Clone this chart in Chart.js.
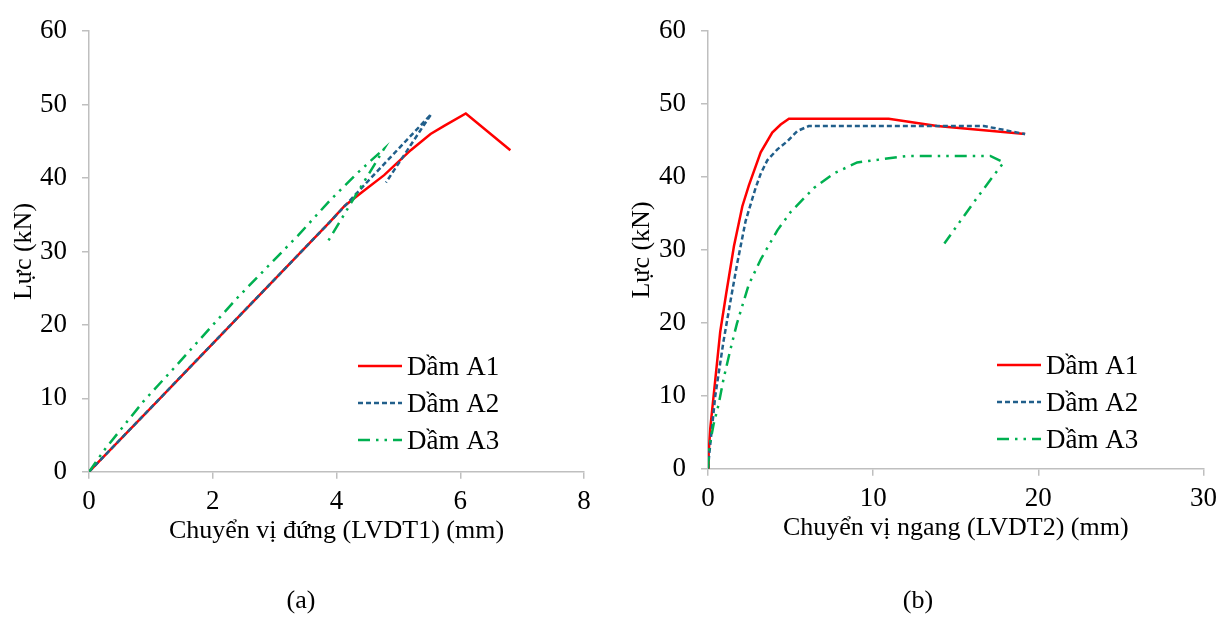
<!DOCTYPE html>
<html>
<head>
<meta charset="utf-8">
<script src="https://cdn.jsdelivr.net/npm/chart.js@4.4.1/dist/chart.umd.min.js"></script>
<style>
    html, body { margin: 0; padding: 0; background: #fff; }
    .panel { position: absolute; top: 0; width: 612px; height: 617px; }
    #panelA { left: 0; }
    #panelB { left: 612px; }
</style>
</head>
<body>
<div class="panel" id="panelA"><canvas id="chartA" width="612" height="617"></canvas></div>
<div class="panel" id="panelB"><canvas id="chartB" width="612" height="617"></canvas></div>
<script>
const seriesNames = ['Dầm A1', 'Dầm A2', 'Dầm A3'];
const yTitle = 'Lực (kN)';

// (a) vertical displacement LVDT1
const a1X = [0, 1.09, 1.98, 3.16, 3.89, 4.13, 4.40, 4.77, 5.20, 5.52, 5.74, 6.09, 6.81];
const a1Y = [0, 9.5, 17.3, 27.6, 34, 36.2, 38, 40.4, 43.8, 46, 47.1, 48.8, 43.8];
const a2X = [0, 1.09, 1.98, 3.16, 3.89, 4.6, 5.53, 5.2, 4.80];
const a2Y = [0, 9.5, 17.3, 27.6, 34, 40.4, 48.7, 44.5, 39.4];
const a3X = [0, 0.26, 0.88, 1.36, 2.41, 3.38, 3.91, 4.34, 4.56, 4.77, 4.3, 3.82];
const a3Y = [0, 3.1, 9.6, 14, 23.8, 32.2, 37.1, 40.7, 42.4, 44.0, 37.5, 30.8];

// (b) horizontal displacement LVDT2
const b1X = [0, 0.04, 0.14, 0.34, 0.74, 1.1, 1.57, 2.08, 2.48, 3.19, 3.89, 4.4, 4.9, 10.94, 13.87, 19.2];
const b1Y = [0, 2.1, 5.6, 10, 18.8, 24, 30.5, 36, 38.9, 43.4, 46.1, 47.2, 48, 48, 47, 45.9];
const b2X = [0, 0.08, 0.24, 0.44, 0.94, 1.4, 1.78, 2.28, 2.88, 3.2, 3.59, 4.2, 4.8, 5.4, 6.1, 16.7, 19.2];
const b2Y = [0, 2.1, 5.6, 10, 17.5, 23.5, 28.3, 34, 38.5, 40.5, 42.3, 43.8, 44.9, 46.3, 47, 47, 45.9];
const b3X = [0, 0.08, 0.34, 0.64, 0.94, 1.35, 1.75, 2.46, 3.19, 4.2, 5.0, 6.41, 7.62, 9.03, 12.06, 17.09, 17.9, 17.09, 16.08, 14.31];
const b3Y = [0, 3.0, 6.1, 8.8, 12.3, 16.3, 19.9, 25.2, 28.7, 32.7, 35.2, 38.5, 40.5, 42.0, 42.9, 42.9, 42.0, 39.6, 36.5, 30.9];

const FONT = "'Liberation Serif', 'Times New Roman', serif";
const AXIS_GREY = '#bfbfbf';

const lineStyles = [
    { color: '#ff0000', dash: [] },
    { color: '#215f8b', dash: [5, 3] },
    { color: '#00b050', dash: [12, 6, 2.5, 6, 2.5, 6] }
];

function toPoints(xs, ys) {
    return xs.map((x, i) => ({ x: x, y: ys[i] }));
}

function makeDatasets(series) {
    return series.map((s, i) => ({
        label: seriesNames[i],
        data: toPoints(s[0], s[1]),
        borderColor: lineStyles[i].color,
        borderDash: lineStyles[i].dash,
        borderWidth: 2.5,
        pointRadius: 0,
        tension: 0,
        fill: false,
        order: series.length - 1 - i   // later series drawn on top, as in Excel
    }));
}

// legend drawn inside the plot, like the Excel original
const insideLegend = {
    id: 'insideLegend',
    afterLayout(chart, args, opts) {
        // keep the (a)/(b) caption centred under the whole panel
        const tb = chart.titleBlock;
        if (tb && opts.captionCenter) {
            tb.left = 0;
            tb.right = opts.captionCenter * 2;
            tb.width = tb.right;
        }
    },
    afterDatasetsDraw(chart, args, opts) {
        const ctx = chart.ctx;
        ctx.save();
        chart.data.datasets.forEach((ds, i) => {
            const y = opts.y + i * opts.gap;
            ctx.beginPath();
            ctx.setLineDash(ds.borderDash || []);
            ctx.strokeStyle = ds.borderColor;
            ctx.lineWidth = ds.borderWidth;
            ctx.moveTo(opts.x, y);
            ctx.lineTo(opts.x + opts.len, y);
            ctx.stroke();
            ctx.setLineDash([]);
            ctx.fillStyle = '#000';
            ctx.font = '27px ' + FONT;
            ctx.textBaseline = 'middle';
            ctx.fillText(ds.label, opts.x + opts.len + 5, y + 2);
        });
        ctx.restore();
    }
};

function buildChart(canvasId, series, cfg) {
    const ctx = document.getElementById(canvasId).getContext('2d');
    return new Chart(ctx, {
        type: 'line',
        data: { datasets: makeDatasets(series) },
        plugins: [insideLegend],
        options: {
            responsive: false,
            animation: false,
            layout: { padding: { top: cfg.padTop, right: cfg.padRight, left: 0, bottom: 0 } },
            plugins: {
                legend: { display: false },
                tooltip: { enabled: false },
                title: {
                    display: true,
                    text: cfg.panel,
                    position: 'bottom',
                    color: '#000',
                    font: { family: FONT, size: 26, weight: 'normal' },
                    padding: { top: cfg.panelPad, bottom: 0 }
                },
                insideLegend: cfg.legend
            },
            scales: {
                x: {
                    type: 'linear',
                    min: 0,
                    max: cfg.xMax,
                    afterFit: scale => { scale.height = 80; },
                    ticks: {
                        stepSize: cfg.xStep,
                        padding: 7,
                        color: '#000',
                        font: { family: FONT, size: 27 }
                    },
                    grid: { drawOnChartArea: false, drawTicks: true, tickLength: 7, color: AXIS_GREY, lineWidth: 1.5 },
                    border: { color: AXIS_GREY, width: 1.5 },
                    title: {
                        display: true,
                        text: cfg.xTitle,
                        color: '#000',
                        font: { family: FONT, size: 26 },
                        padding: { top: 0, bottom: 5 }
                    }
                },
                y: {
                    min: 0,
                    max: 60,
                    afterFit: scale => { scale.width = cfg.yWidth; },
                    ticks: {
                        stepSize: 10,
                        padding: 15,
                        color: '#000',
                        font: { family: FONT, size: 27 }
                    },
                    grid: { drawOnChartArea: false, drawTicks: true, tickLength: 7, color: AXIS_GREY, lineWidth: 1.5 },
                    border: { color: AXIS_GREY, width: 1.5 },
                    title: {
                        display: true,
                        text: yTitle,
                        color: '#000',
                        font: { family: FONT, size: 26 },
                        padding: { top: cfg.yTitlePad, bottom: 0 }
                    }
                }
            }
        }
    });
}

buildChart('chartA', [[a1X, a1Y], [a2X, a2Y], [a3X, a3Y]], {
    panel: '(a)',
    xTitle: 'Chuyển vị đứng (LVDT1) (mm)',
    xMax: 8,
    xStep: 2,
    padTop: 22,
    padRight: 28,
    panelPad: 34,
    yWidth: 89,
    yTitlePad: 9,
    legend: { x: 358, y: 366, gap: 37, len: 44, captionCenter: 301 }
});

buildChart('chartB', [[b1X, b1Y], [b2X, b2Y], [b3X, b3Y]], {
    panel: '(b)',
    xTitle: 'Chuyển vị ngang (LVDT2) (mm)',
    xMax: 30,
    xStep: 10,
    padTop: 20.5,
    padRight: 19,
    panelPad: 37,
    yWidth: 96,
    yTitlePad: 15,
    legend: { x: 385, y: 365, gap: 37, len: 44, captionCenter: 306 }
});
</script>
</body>
</html>
